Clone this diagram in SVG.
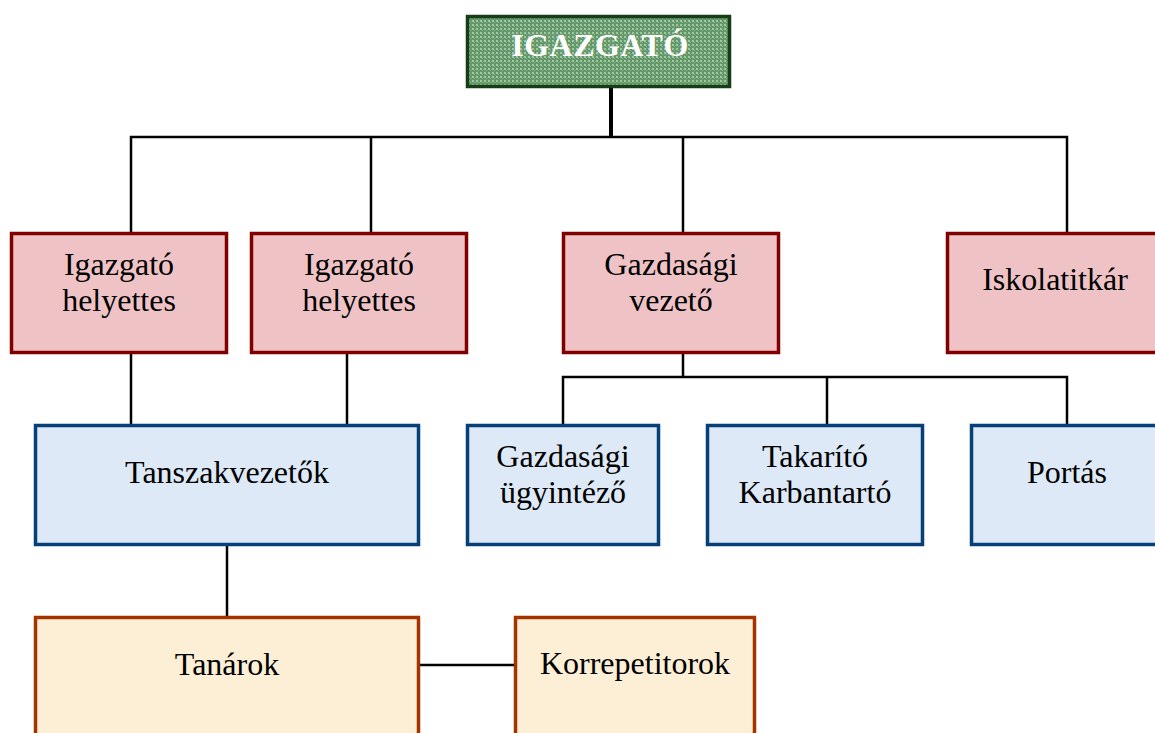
<svg xmlns="http://www.w3.org/2000/svg" width="1155" height="733" viewBox="0 0 1155 733">
<defs>
<pattern id="gp" width="4" height="4" patternUnits="userSpaceOnUse">
<rect width="4" height="4" fill="#63996a"/>
<rect x="0" y="0" width="2" height="2" fill="#a3c6a2"/>
<rect x="2" y="2" width="1" height="1" fill="#8cb48c"/>
</pattern>
</defs>
<style>
.pink{fill:#efc3c5;stroke:#800000;stroke-width:3.5}
.blue{fill:#dde9f7;stroke:#073f78;stroke-width:3.5}
.tan{fill:#fcefd6;stroke:#a33400;stroke-width:3.5}
.top{fill:url(#gp);stroke:#173d17;stroke-width:3.5}
.t{font-family:"Liberation Serif","Times New Roman",serif;font-size:32px;fill:#000;text-anchor:middle}
.h{font-family:"Liberation Serif","Times New Roman",serif;font-size:32px;font-weight:bold;fill:#fff;text-anchor:middle;letter-spacing:0.5px}
.c{stroke:#000;stroke-width:2.5;fill:none}
</style>
<g id="connectors">
<line x1="611" y1="88" x2="611" y2="137" stroke="#000" stroke-width="4"/>
<polyline class="c" points="131,232 131,137 1067,137 1067,232"/>
<line class="c" x1="371" y1="137" x2="371" y2="232"/>
<line class="c" x1="683" y1="137" x2="683" y2="232"/>
<line class="c" x1="131" y1="354" x2="131" y2="424"/>
<line class="c" x1="347" y1="354" x2="347" y2="424"/>
<line class="c" x1="683" y1="354" x2="683" y2="377"/>
<polyline class="c" points="563,424 563,377 1067,377 1067,424"/>
<line class="c" x1="827" y1="377" x2="827" y2="424"/>
<line class="c" x1="227" y1="546" x2="227" y2="616"/>
<line class="c" x1="420" y1="665" x2="514" y2="665"/>
</g>
<g id="igazgato">
<rect class="top" x="467.5" y="16.5" width="262" height="70"/>
<text class="h" x="600" y="56">IGAZGATÓ</text>
</g>
<g id="helyettes1">
<rect class="pink" x="11.5" y="233.5" width="215" height="119"/>
<text class="t" x="119" y="275">Igazgató</text>
<text class="t" x="119" y="311">helyettes</text>
</g>
<g id="helyettes2">
<rect class="pink" x="251.5" y="233.5" width="215" height="119"/>
<text class="t" x="359" y="275">Igazgató</text>
<text class="t" x="359" y="311">helyettes</text>
</g>
<g id="gazdasagi-vezeto">
<rect class="pink" x="563.5" y="233.5" width="215" height="119"/>
<text class="t" x="671" y="275">Gazdasági</text>
<text class="t" x="671" y="311">vezető</text>
</g>
<g id="iskolatitkar">
<rect class="pink" x="947.5" y="233.5" width="215" height="119"/>
<text class="t" x="1055" y="290">Iskolatitkár</text>
</g>
<g id="tanszakvezetok">
<rect class="blue" x="35.5" y="425.5" width="383" height="119"/>
<text class="t" x="227" y="483">Tanszakvezetők</text>
</g>
<g id="gazdasagi-ugyintezo">
<rect class="blue" x="467.5" y="425.5" width="191" height="119"/>
<text class="t" x="563" y="467">Gazdasági</text>
<text class="t" x="563" y="503">ügyintéző</text>
</g>
<g id="takarito">
<rect class="blue" x="707.5" y="425.5" width="215" height="119"/>
<text class="t" x="815" y="467">Takarító</text>
<text class="t" x="815" y="503">Karbantartó</text>
</g>
<g id="portas">
<rect class="blue" x="971.5" y="425.5" width="191" height="119"/>
<text class="t" x="1067" y="483">Portás</text>
</g>
<g id="tanarok">
<rect class="tan" x="35.5" y="617.5" width="383" height="130"/>
<text class="t" x="227" y="675">Tanárok</text>
</g>
<g id="korrepetitorok">
<rect class="tan" x="515.5" y="617.5" width="239" height="130"/>
<text class="t" x="635" y="674">Korrepetitorok</text>
</g>
</svg>
